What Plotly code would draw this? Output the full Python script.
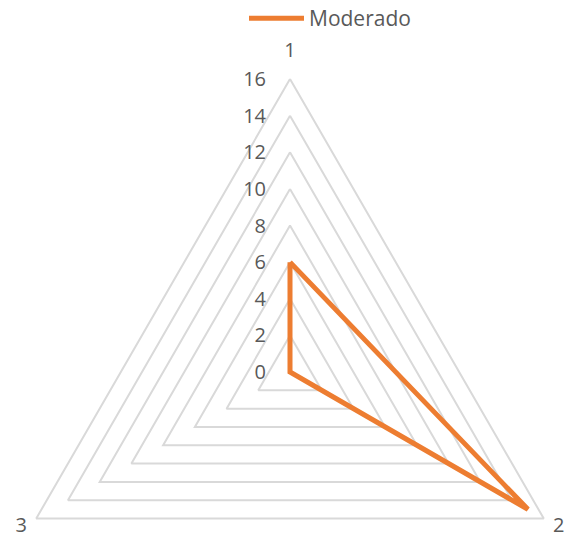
import numpy as np
import plotly.graph_objects as go

# ---- data ----
categories = ["1", "2", "3"]
series_name = "Moderado"
moderado = [6, 15, 0]
tick_values = [0, 2, 4, 6, 8, 10, 12, 14, 16]
tick_labels = [str(v) for v in tick_values]

# ---- style / layout constants ----
# page body has an 8px margin, so the figure is sized to the visible area
W, H = 564, 531
R_MAX = 16
PX_PER_UNIT = 293 / R_MAX
CX_PX, CY_PX = 282, 364
LABEL_PAD = [1.5, 0.95, 0.95]
FONT = "Open Sans"
TEXT_COLOR = "#595959"
GRID_COLOR = "#d9d9d9"
LINE_COLOR = "#ed7d31"

n = len(categories)
angles = np.deg2rad(90 - 360.0 / n * np.arange(n))  # clockwise from top


def to_xy(r, a):
    r = np.asarray(r, dtype=float)
    return r * np.cos(a), r * np.sin(a)


fig = go.Figure()

# grid polygons (one per tick value)
gx, gy = [], []
for t in tick_values:
    if t == 0:
        continue
    xs, ys = to_xy(np.full(n, t), angles)
    gx += list(xs) + [xs[0], None]
    gy += list(ys) + [ys[0], None]
fig.add_trace(go.Scatter(x=gx, y=gy, mode="lines",
                         line=dict(color=GRID_COLOR, width=2),
                         hoverinfo="skip", showlegend=False))

# data series
sx, sy = to_xy(moderado, angles)
fig.add_trace(go.Scatter(x=list(sx) + [sx[0]], y=list(sy) + [sy[0]],
                         mode="lines", name=series_name,
                         line=dict(color=LINE_COLOR, width=5),
                         showlegend=True))

# category labels
lx, ly = to_xy(R_MAX + np.array(LABEL_PAD), angles)
fig.add_trace(go.Scatter(x=lx, y=ly, mode="text", text=categories,
                         textposition="middle center",
                         textfont=dict(family=FONT, size=20, color=TEXT_COLOR),
                         hoverinfo="skip", showlegend=False))

xmin, xmax = -CX_PX / PX_PER_UNIT, (W - CX_PX) / PX_PER_UNIT
ymin, ymax = -(H - CY_PX) / PX_PER_UNIT, CY_PX / PX_PER_UNIT

fig.update_layout(
    width=W, height=H,
    margin=dict(l=0, r=0, t=0, b=0, autoexpand=False),
    paper_bgcolor="white", plot_bgcolor="white",
    font=dict(family=FONT, size=20, color=TEXT_COLOR),
    xaxis=dict(range=[xmin, xmax], visible=False, fixedrange=True),
    yaxis=dict(range=[ymin, ymax], anchor="free",
               position=(0 - xmin) / (xmax - xmin),
               tickvals=tick_values, ticktext=tick_labels,
               showline=False, showgrid=False, zeroline=False,
               ticks="", ticklabelstandoff=24,
               tickfont=dict(family=FONT, size=20, color=TEXT_COLOR),
               fixedrange=True),
    legend=dict(orientation="h", x=236 / W, xanchor="left",
                y=1 + 10 / H, yanchor="top", itemwidth=55,
                font=dict(family=FONT, size=21, color=TEXT_COLOR),
                bgcolor="rgba(0,0,0,0)"),
    showlegend=True,
)

fig.write_html("out.html")
